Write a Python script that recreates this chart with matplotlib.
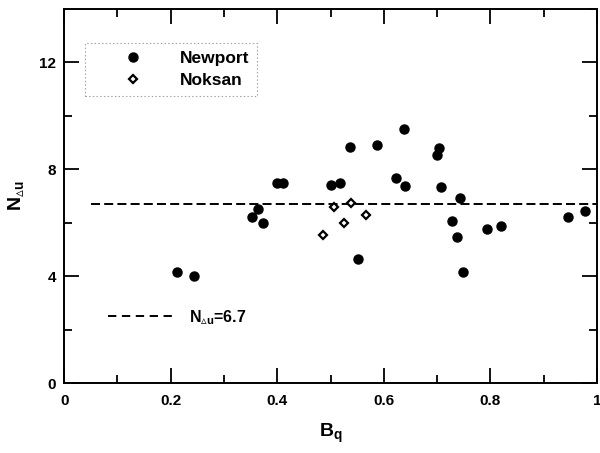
import numpy as np
import matplotlib
matplotlib.use("Agg")
import matplotlib.pyplot as plt
from matplotlib.lines import Line2D

plt.rcParams['font.family'] = ['Liberation Sans', 'DejaVu Sans']
plt.rcParams['font.weight'] = 'bold'
plt.rcParams['mathtext.fontset'] = 'custom'
plt.rcParams['mathtext.rm'] = 'Liberation Sans:bold'
plt.rcParams['mathtext.bf'] = 'Liberation Sans:bold'
plt.rcParams['mathtext.it'] = 'Liberation Sans:bold'
plt.rcParams['mathtext.sf'] = 'DejaVu Sans'
plt.rcParams['lines.scale_dashes'] = False

# --- data ---
newport_bq = [0.212, 0.243, 0.352, 0.363, 0.373, 0.399, 0.410, 0.500, 0.517,
              0.536, 0.551, 0.588, 0.622, 0.637, 0.640, 0.700, 0.704, 0.708,
              0.727, 0.738, 0.742, 0.749, 0.794, 0.820, 0.946, 0.977]
newport_n = [4.15, 4.00, 6.20, 6.50, 5.98, 7.48, 7.48, 7.40, 7.48,
             8.82, 4.64, 8.90, 7.66, 9.50, 7.36, 8.52, 8.78, 7.33,
             6.05, 5.46, 6.92, 4.15, 5.76, 5.87, 6.20, 6.43]

noksan_bq = [0.485, 0.507, 0.526, 0.539, 0.567]
noksan_n = [5.53, 6.58, 5.98, 6.73, 6.28]

mean_n = 6.7
mean_range = [0.05, 1.0]

# subscript with the small triangle (DejaVu has the glyph)
sub = r'_{\mathsf{▵}\mathbf{u}}'

fig = plt.figure(figsize=(6.0, 4.53), dpi=100)
ax = fig.add_axes([0.107, 0.1545, 0.888, 0.8255])

dash = (0, (6.5, 3.0))
ax.plot(mean_range, [mean_n, mean_n], color='black', lw=1.4, linestyle=dash)

h1, = ax.plot(newport_bq, newport_n, 'o', color='black', markersize=6.5,
              linestyle='none', label='Newport')
h2, = ax.plot(noksan_bq, noksan_n, 'D', markerfacecolor='white',
              markeredgecolor='black', markeredgewidth=1.6, markersize=4.5,
              linestyle='none', label='Noksan')

ax.set_xlim(0, 1)
ax.set_ylim(0, 14)
ax.set_xticks([0, 0.2, 0.4, 0.6, 0.8, 1.0])
ax.set_xticklabels(['0', '0.2', '0.4', '0.6', '0.8', '1'])
ax.set_xticks(np.arange(0.1, 1.0, 0.2), minor=True)
ax.set_yticks([0, 4, 8, 12])
ax.set_yticks([2, 6, 10, 14], minor=True)

ax.tick_params(which='both', direction='in', top=True, right=True,
               labelsize=11, width=1.3)
ax.tick_params(which='major', length=11)
ax.tick_params(which='minor', length=6)
ax.tick_params(axis='x', pad=8)
ax.tick_params(axis='y', pad=6)
for s in ax.spines.values():
    s.set_linewidth(1.4)

ax.set_xlabel(r'$\mathbf{B}_{\mathbf{q}}$', fontsize=14, labelpad=10)
ax.set_ylabel(r'$\mathbf{N}' + sub + '$', fontsize=14, labelpad=9)

leg = ax.legend(handles=[h1, h2], loc='upper left',
                bbox_to_anchor=(0.039, 0.909), borderaxespad=0,
                fontsize=12.5, frameon=True, fancybox=False,
                handlelength=4.6, handletextpad=0.4, borderpad=0.45,
                labelspacing=0.4)
fr = leg.get_frame()
fr.set_edgecolor('#888888')
fr.set_linestyle(':')
fr.set_linewidth(0.8)
ax.add_artist(leg)

mline = Line2D([], [], color='black', lw=1.4, linestyle=(0, (6.0, 4.0)))
leg2 = ax.legend(handles=[mline], labels=[r'N$' + sub + '$=6.7'],
                 loc='center left', bbox_to_anchor=(0.082, 0.176),
                 borderaxespad=0, borderpad=0, frameon=False, fontsize=11.5,
                 handlelength=4.3, handletextpad=0.8)

fig.savefig('out.png', dpi=100, facecolor='white')
